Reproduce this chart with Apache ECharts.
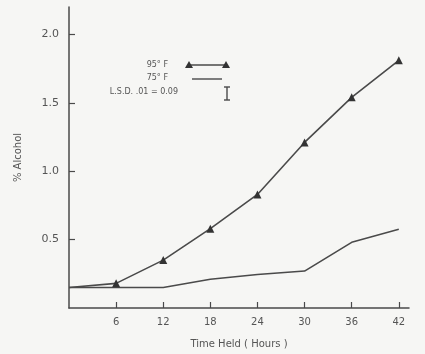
<!DOCTYPE html>
<html><head><meta charset="utf-8">
<script src="https://cdn.jsdelivr.net/npm/echarts@6/dist/echarts.min.js"></script>
<style>html,body{margin:0;padding:0;background:#f6f6f4}#c{width:425px;height:354px}</style>
</head><body><div id="c"></div>
<script>
var hours = [0, 6, 12, 18, 24, 30, 36, 42];
var alcohol95F = [0.15, 0.18, 0.35, 0.58, 0.83, 1.21, 1.54, 1.81];
var alcohol75F = [0.15, 0.15, 0.15, 0.21, 0.245, 0.27, 0.48, 0.575];
var xTicks = [6, 12, 18, 24, 30, 36, 42];
var yTicks = [0.5, 1.0, 1.5, 2.0];
var lsdValue = 0.09;

var ink = '#4a4a4a';
var txt = '#555555';
var font = 'DejaVu Sans';
var chart = echarts.init(document.getElementById('c'), null, {renderer: 'canvas'});
var s95 = hours.map(function (h, i) {
  var d = {value: [h, alcohol95F[i]]};
  if (h === 0) d.symbol = 'none';
  return d;
});
var s75 = hours.map(function (h, i) { return [h, alcohol75F[i]]; });
chart.setOption({
  backgroundColor: '#f6f6f4',
  animation: false,
  grid: {left: 69, right: 16, top: 7, bottom: 46},
  xAxis: {
    type: 'value', min: 0, max: 43.3,
    name: 'Time Held ( Hours )', nameLocation: 'middle', nameGap: 31,
    nameTextStyle: {color: txt, fontSize: 10, fontFamily: font},
    axisLine: {lineStyle: {color: ink, width: 1.5}},
    axisTick: {inside: true, length: 6, customValues: xTicks, lineStyle: {color: ink, width: 1.2}},
    axisLabel: {customValues: xTicks, color: txt, fontSize: 10, fontFamily: font, margin: 9},
    splitLine: {show: false}
  },
  yAxis: {
    type: 'value', min: 0, max: 2.2,
    name: '% Alcohol', nameLocation: 'middle', nameGap: 46, nameRotate: 90,
    nameTextStyle: {color: txt, fontSize: 10, fontFamily: font},
    axisLine: {show: true, lineStyle: {color: ink, width: 1.5}},
    axisTick: {show: true, inside: true, length: 6, customValues: yTicks, lineStyle: {color: ink, width: 1.2}},
    axisLabel: {customValues: yTicks, color: txt, fontSize: 11, fontFamily: font, margin: 10,
      formatter: function (v) { return v.toFixed(1); }},
    splitLine: {show: false}
  },
  series: [
    {name: '95° F', type: 'line', data: s95, symbol: 'triangle', symbolSize: 8,
      lineStyle: {color: ink, width: 1.6}, itemStyle: {color: '#333'}},
    {name: '75° F', type: 'line', data: s75, showSymbol: false, symbol: 'none',
      lineStyle: {color: ink, width: 1.6}}
  ],
  graphic: [
    {type: 'text', right: 425 - 168, top: 61, style: {text: '95° F', fill: txt, font: '8px DejaVu Sans', textAlign: 'right'}},
    {type: 'text', right: 425 - 168, top: 74, style: {text: '75° F', fill: txt, font: '8px DejaVu Sans', textAlign: 'right'}},
    {type: 'text', right: 425 - 178, top: 88, style: {text: 'L.S.D. .01 = ' + lsdValue.toFixed(2), fill: txt, font: '8px DejaVu Sans', textAlign: 'right'}},
    {type: 'line', shape: {x1: 189, y1: 65, x2: 226, y2: 65}, style: {stroke: ink, lineWidth: 1.6}},
    {type: 'polygon', shape: {points: [[189, 61], [185, 68], [193, 68]]}, style: {fill: '#333'}},
    {type: 'polygon', shape: {points: [[226, 61], [222, 68], [230, 68]]}, style: {fill: '#333'}},
    {type: 'line', shape: {x1: 192, y1: 79, x2: 222, y2: 79}, style: {stroke: ink, lineWidth: 1.4}},
    {type: 'line', shape: {x1: 227, y1: 87, x2: 227, y2: 100}, style: {stroke: ink, lineWidth: 1.4}},
    {type: 'line', shape: {x1: 224, y1: 87, x2: 230, y2: 87}, style: {stroke: ink, lineWidth: 1.4}},
    {type: 'line', shape: {x1: 224, y1: 100, x2: 230, y2: 100}, style: {stroke: ink, lineWidth: 1.4}}
  ]
});
</script></body></html>
